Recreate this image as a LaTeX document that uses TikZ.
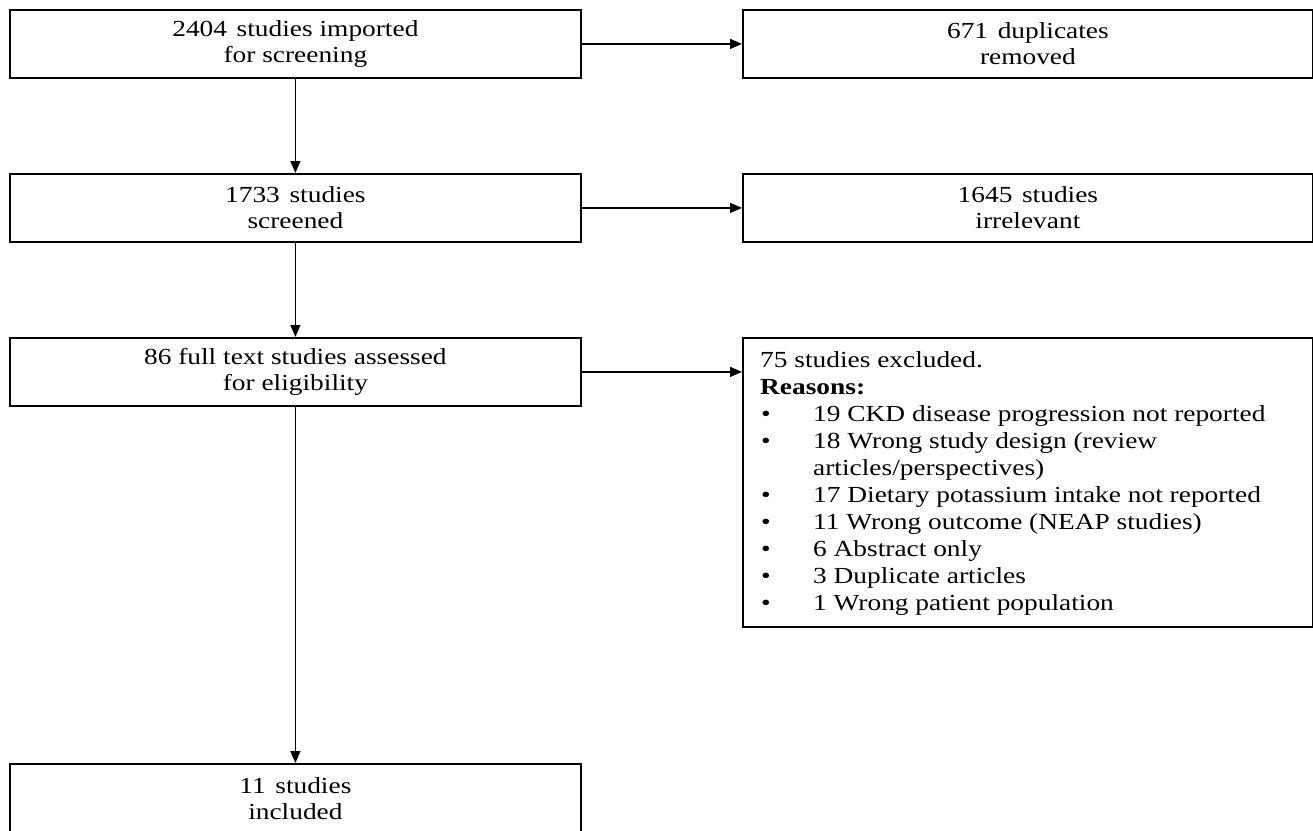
\documentclass[tikz,border=0pt]{standalone}
\usepackage{fontspec}
\setmainfont{Liberation Serif}[FakeStretch=1.19]
\usetikzlibrary{arrows.meta,calc}
\tikzset{
  flowbox/.style={draw=black, line width=1.8pt, fill=white, minimum width=571pt, minimum height=68pt, inner sep=0pt, align=center, anchor=north west, font=\fontsize{23}{26}\selectfont},
  flowarrow/.style={line width=1.3pt, -{Triangle[length=12pt,width=10pt]}},
  listtext/.style={inner sep=0pt, align=left, anchor=north west, font=\fontsize{23}{27}\selectfont}
}
\newcommand{\bul}{\makebox[53pt][l]{\hspace{1pt}\textbullet}}
\newcommand{\gap}{\hspace{0.42em}}
\begin{document}
\begin{tikzpicture}[x=1pt,y=-1pt]
\useasboundingbox (0,0) rectangle (1313,830);
\clip (0,0) rectangle (1313,830);
\node[flowbox] (b1) at (9,9) {2404\gap studies imported\\for screening};
\node[flowbox, minimum width=570pt] (r1) at (742,9) {671\gap duplicates\\removed};
\node[flowbox] (b2) at (9,173) {1733\gap studies\\screened};
\node[flowbox, minimum width=570pt] (r2) at (742,173) {1645\gap studies\\irrelevant};
\node[flowbox] (b3) at (9,337) {86 full text studies assessed\\for eligibility};
\node[flowbox, minimum width=570pt, minimum height=289pt] (excl) at (742,337) {};
\node[listtext] (excltext) at (760,351) {75 studies excluded.\\
\textbf{Reasons:}\\
\bul 19 CKD disease progression not reported\\
\bul 18 Wrong study design (review\\
\hspace*{53pt}articles/perspectives)\\
\bul 17 Dietary potassium intake not reported\\
\bul 11 Wrong outcome (NEAP studies)\\
\bul 6 Abstract only\\
\bul 3 Duplicate articles\\
\bul 1 Wrong patient population};
\node[flowbox, minimum height=70pt] (b4) at (9,763) {11\gap studies\\included};
\draw[flowarrow] (b1.east) -- (r1.west);
\draw[flowarrow] (b2.east) -- (r2.west);
\draw[flowarrow] (b3.east) -- (b3.east -| excl.west);
\draw[flowarrow] (b1.south) -- (b2.north);
\draw[flowarrow] (b2.south) -- (b3.north);
\draw[flowarrow] (b3.south) -- (b4.north);
\end{tikzpicture}
\end{document}
